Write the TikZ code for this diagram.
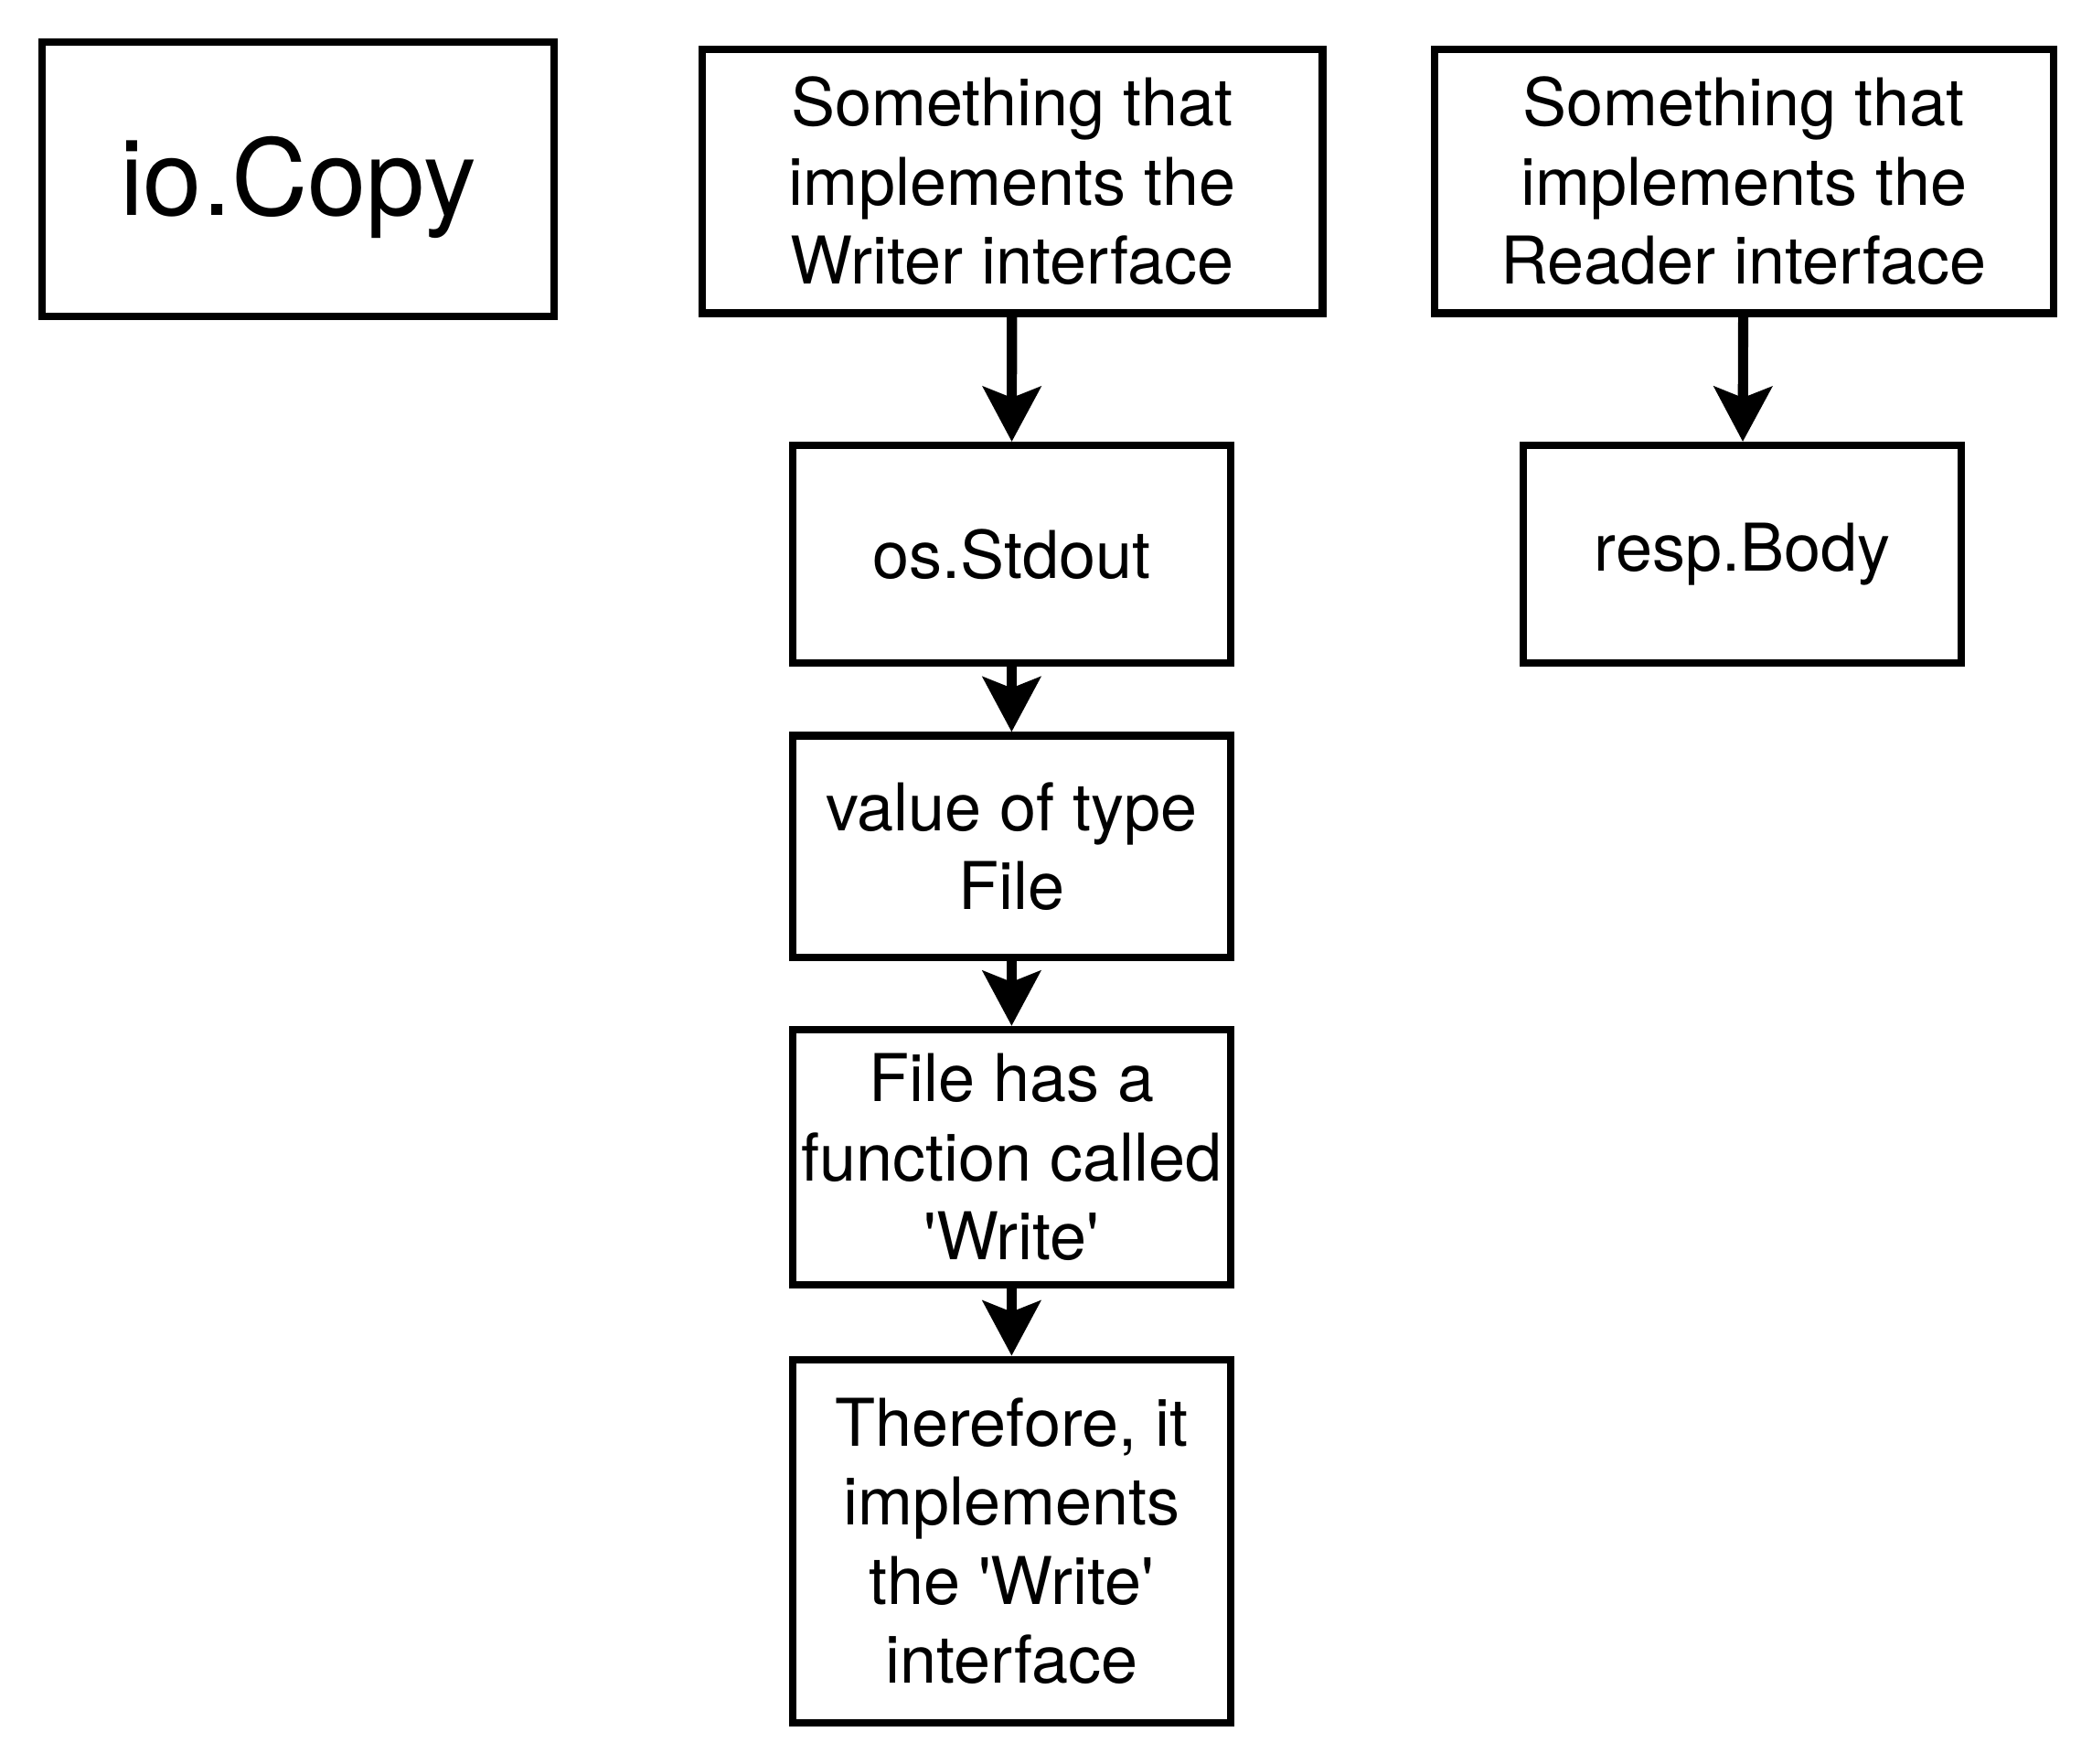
\documentclass[tikz,border=0pt]{standalone}
\usepackage{fontspec}
\setmainfont{TeX Gyre Heros}
\usetikzlibrary{arrows.meta}

\begin{document}
\begin{tikzpicture}[x=1pt,y=-1pt,
    box/.style={draw, line width=2.7pt, align=center, inner sep=0pt,
      font=\fontsize{24}{28.8}\selectfont},
    link/.style={-{Stealth[length=20pt,width=21pt,inset=4pt]}, line width=3.7pt}]
	\useasboundingbox (0,0) rectangle (762.67,642.67);

            \node[box, minimum width=186.7pt, minimum height=100.2pt,
              font=\fontsize{38.5}{46}\selectfont] (copy) at (108.7,65.3)
              {\raisebox{-3pt}[\height][\depth]{io.Copy}};

            \node[box, minimum width=226.3pt, minimum height=96.3pt] (writer) at (369,66)
              {Something that\\implements the\\Writer interface};
            \node[box, minimum width=225.7pt, minimum height=96.3pt] (reader) at (635.7,66)
              {Something that\\implements the\\Reader interface};

            \node[box, minimum width=159.8pt, minimum height=79.3pt] (stdout) at (368.8,202) {os.Stdout};
            \node[box, minimum width=159.7pt, minimum height=79.3pt] (body) at (635.2,202) {resp.Body};

            \node[box, minimum width=159.8pt, minimum height=80.7pt] (file) at (368.8,308.5)
              {value of type\\File};
            \node[box, minimum width=159.8pt, minimum height=93pt] (write) at (368.8,421.8)
              {File has a\\function called\\\textquotesingle Write\textquotesingle};
            \node[box, minimum width=159.8pt, minimum height=132.3pt] (impl) at (368.8,561.7)
              {Therefore, it\\implements\\the \textquotesingle Write\textquotesingle\\interface};

            \foreach \a/\b in {writer/stdout, stdout/file, file/write, write/impl, reader/body}{
              \draw[link] (\a) -- (\b);
            }
        \end{tikzpicture}
\end{document}
